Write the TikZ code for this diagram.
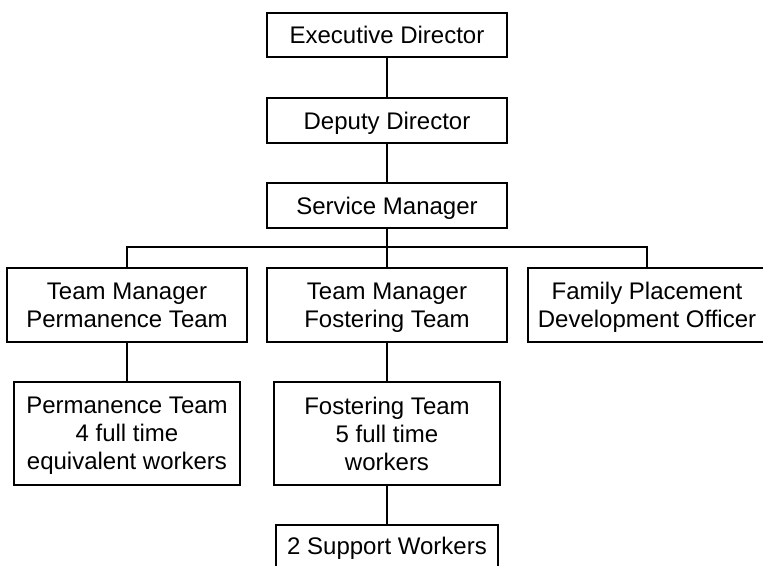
\documentclass[tikz,border=0pt]{standalone}
\usepackage{fontspec}
\setmainfont{Liberation Sans}
\begin{document}
\begin{tikzpicture}[x=1pt,y=1pt,
  box/.style={draw=black,line width=1.4pt,fill=white,inner sep=0pt,align=center,
    text depth=0pt,font=\fontsize{24}{28}\selectfont},
  link/.style={draw=black,line width=1.4pt}]
\useasboundingbox (0,0) rectangle (763,-565);
\node[box,minimum width=240,minimum height=44] (exec) at (387,-35) {Executive Director};
\node[box,minimum width=240,minimum height=45] (dep) at (387,-120.5) {Deputy Director};
\node[box,minimum width=240,minimum height=45] (svc) at (387,-205.5) {Service Manager};
\node[box,minimum width=240,minimum height=74] (tmp) at (127,-305) {Team Manager\\Permanence Team};
\node[box,minimum width=240,minimum height=74] (tmf) at (387,-305) {Team Manager\\Fostering Team};
\node[box,minimum width=238,minimum height=74] (fp) at (647,-305) {Family Placement\\Development Officer};
\node[box,minimum width=226,minimum height=103] (pt) at (127,-433.5) {Permanence Team\\4 full time\\equivalent workers};
\node[box,minimum width=226,minimum height=103] (ft) at (387,-433.5) {Fostering Team\\5 full time\\workers};
\node[box,minimum width=222,minimum height=42] (sw) at (387,-546) {2 Support Workers};
\coordinate (bus) at (387,-247);
\path[link] (exec) -- (dep);
\path[link] (dep) -- (svc);
\path[link] (svc.south) -- (tmf.north);
\path[link] (tmp.north) |- (bus) -| (fp.north);
\path[link] (tmp) -- (pt);
\path[link] (tmf) -- (ft);
\path[link] (ft) -- (sw);
\end{tikzpicture}
\end{document}
